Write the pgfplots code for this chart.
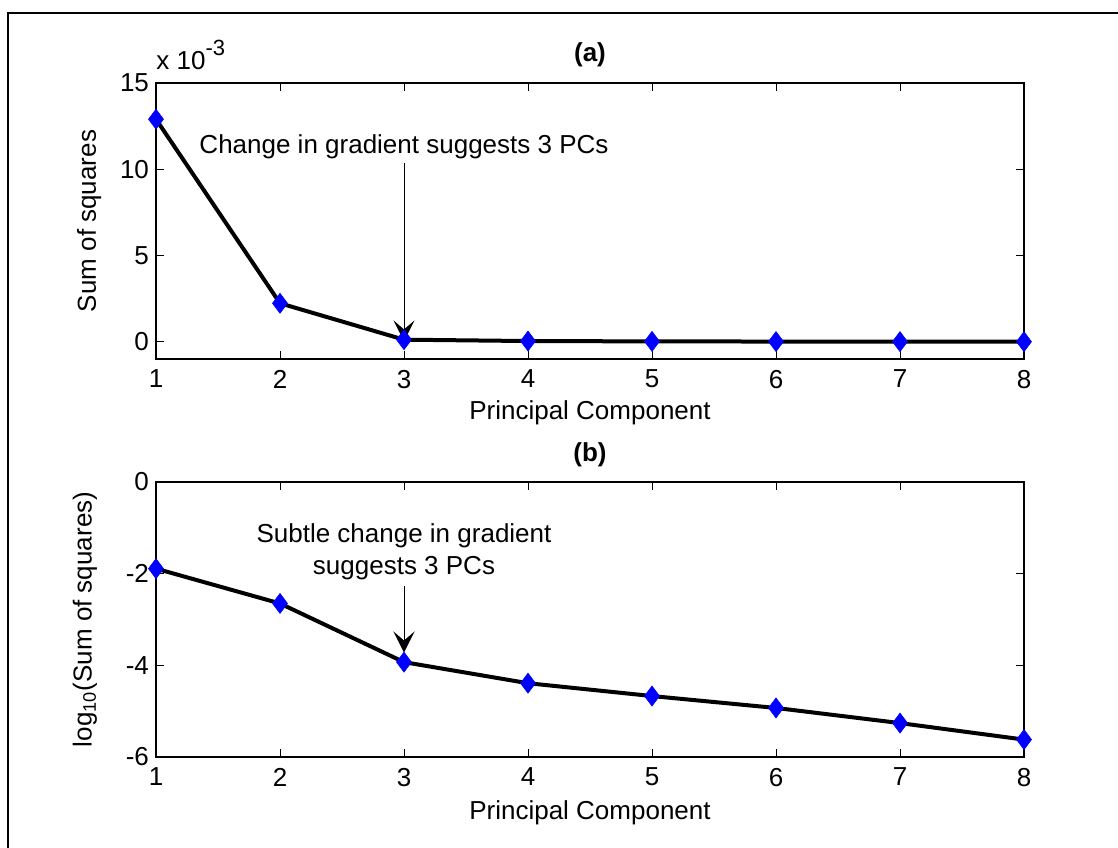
\documentclass[border=0pt]{standalone}
\usepackage{fontspec}
\setmainfont{Liberation Sans}
\usepackage{pgfplots}
\pgfplotsset{compat=1.18}
\usetikzlibrary{arrows.meta}
\tikzset{mytitle/.style={font=\fontsize{13pt}{15pt}\selectfont\bfseries, anchor=center, inner sep=0pt}}
\begin{document}
\begin{tikzpicture}
\useasboundingbox (0,0) rectangle (559pt,423.5pt);
\draw[line width=1.3pt] (4pt,-20pt) -- (4pt,417pt) -- (600pt,417pt);
\pgfplotsset{
  mystyle/.style={
    scale only axis, width=434pt, clip=false,
    xmin=1, xmax=8, xtick={1,...,8},
    tick align=inside, major tick length=3.8pt,
    axis line style={line width=0.6pt},
    every tick/.style={line width=0.5pt,black},
    font=\fontsize{13pt}{16pt}\selectfont,
    tick label style={font=\fontsize{13pt}{16pt}\selectfont},
    /pgf/number format/assume math mode=true,
    xticklabel style={yshift=-2pt},
    xlabel={Principal Component},
  },
  myline/.style={black, line width=2pt, mark=diamond*, mark size=5pt,
    mark options={fill=blue, draw=blue, line width=0.3pt}},
}
% Top axis
\begin{axis}[mystyle, at={(78pt,244pt)}, anchor=south west, height=138pt,
  ymin=-1, ymax=15, ytick={0,5,10,15},
  ylabel={Sum of squares},
  ylabel style={at={(axis description cs:-0.077,0.5)}, anchor=center},
  xlabel style={at={(axis description cs:0.5,-0.196)}, anchor=center}]
\addplot[myline] coordinates {
(1,12.9) (2,2.23) (3,0.12) (4,0.041) (5,0.021) (6,0.012) (7,0.0055) (8,0.0023)};
\node[mytitle] at (axis description cs:0.5,1) [yshift=14pt] {(a)};
\node[anchor=base west, inner sep=0pt] at (axis description cs:0,1) [yshift=6.5pt] {x 10\raisebox{0.55em}{\fontsize{11pt}{13pt}\selectfont -3}};
\node at (axis cs:3,11.3) {Change in gradient suggests 3 PCs};
\draw[line width=0.4pt, -{Stealth[length=10.5pt,width=10.5pt,inset=4.5pt]}] (axis cs:3,10.36) -- (axis cs:3,0.02);
\end{axis}
% Bottom axis
\begin{axis}[mystyle, at={(78pt,45pt)}, anchor=south west, height=137.5pt,
  ymin=-6, ymax=0, ytick={-6,-4,-2,0},
  ylabel={log\textsubscript{10}(Sum of squares)},
  ylabel style={at={(axis description cs:-0.082,0.5)}, anchor=center},
  xlabel style={at={(axis description cs:0.5,-0.204)}, anchor=center}]
\addplot[myline] coordinates {
(1,-1.89) (2,-2.65) (3,-3.93) (4,-4.39) (5,-4.67) (6,-4.93) (7,-5.26) (8,-5.62)};
\node[mytitle] at (axis description cs:0.5,1) [yshift=13.5pt] {(b)};
\node[align=center] at (axis cs:3,-1.53) {Subtle change in gradient\\suggests 3 PCs};
\draw[line width=0.4pt, -{Stealth[length=10.5pt,width=10.5pt,inset=4.5pt]}] (axis cs:3,-2.27) -- (axis cs:3,-3.72);
\end{axis}
\end{tikzpicture}
\end{document}
